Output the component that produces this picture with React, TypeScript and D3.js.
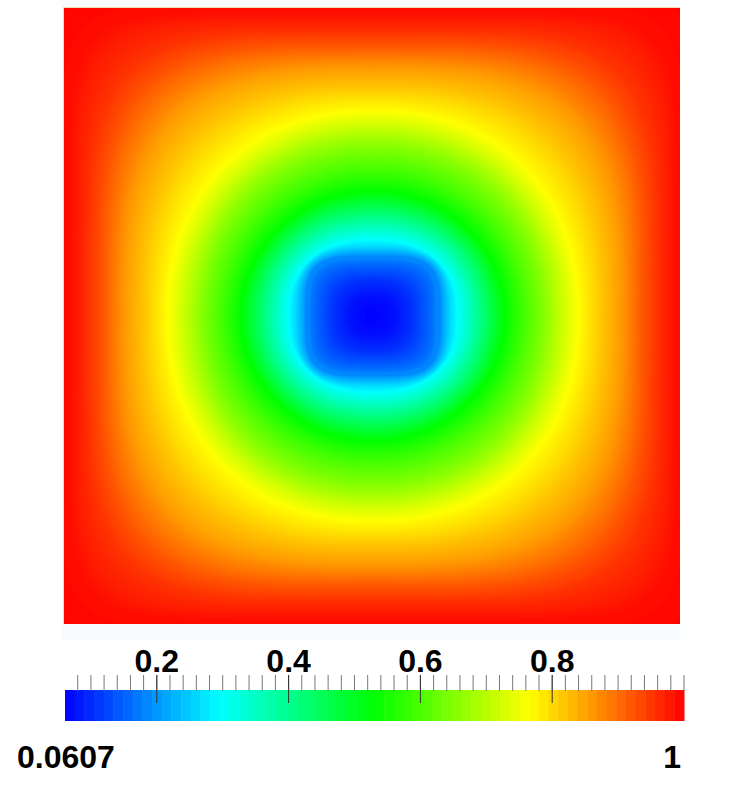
import React, { useMemo } from "react";
import * as d3 from "d3";

const domainMin = 0.0607;
const domainMax = 1;
const majorTicks = [0.2, 0.4, 0.6, 0.8];
const endLabels = ["0.0607", "1"];
const rampStops = ["#0000ff", "#00ffff", "#00ff00", "#ffff00", "#ff0000"];
const bandCount = 64;

// value at each distance from the field's centre, along the axes
const profileRadius = [0, 20, 40, 55, 62, 64.5, 66.5, 70, 78, 85, 95, 110, 132, 150, 170, 190, 206, 229, 249, 272, 290, 305, 340, 440];
const profileValue = [0.0607, 0.072, 0.108, 0.15, 0.172, 0.192, 0.178, 0.212, 0.264, 0.297, 0.345, 0.42, 0.53, 0.59, 0.65, 0.72, 0.767, 0.819, 0.86, 0.925, 0.965, 0.99, 1, 1];
// exponent of the iso-line shape at those distances: rounded square at the core and near the walls
const shapeRadius = [0, 30, 55, 65, 85, 130, 206, 255, 285, 305, 340];
const shapeExponent = [2.2, 2.6, 3.5, 4, 2.3, 2, 2.2, 3.3, 4.6, 8, 12];
// iso-lines of the core are a little flatter in y than in x
const squeezeRadius = [0, 65, 85, 180, 440];
const squeezeAmount = [1.06, 1.12, 1.11, 1, 1];

const W = 754, H = 805;
const plot = { x: 64, y: 8, w: 616, h: 616 };
const center = { x: 372, y: 315 };
const bar = { x: 65, y: 690, w: 619, h: 31 };

const color = d3.scaleLinear<string>()
  .domain(d3.range(5).map((i) => domainMin + (i / 4) * (domainMax - domainMin)))
  .range(rampStops)
  .interpolate(d3.interpolateRgb);

const valueAt = d3.scaleLinear().domain(profileRadius).range(profileValue).clamp(true);
const shapeAt = d3.scaleLinear().domain(shapeRadius).range(shapeExponent).clamp(true);
const squeezeAt = d3.scaleLinear().domain(squeezeRadius).range(squeezeAmount).clamp(true);

function field(px: number, py: number) {
  const dx = Math.abs(px - center.x) / 400;
  const dy0 = Math.abs(py - center.y) / 400;
  let lo = 0, hi = 600;
  for (let k = 0; k < 14; k++) {
    const r = (lo + hi) / 2;
    const p = shapeAt(r);
    const dy = dy0 * squeezeAt(r);
    const norm = 400 * Math.pow(Math.pow(dx, p) + Math.pow(dy, p), 1 / p);
    if (norm > r) lo = r; else hi = r;
  }
  return valueAt((lo + hi) / 2);
}

export default function App() {
  const step = 2;
  const contours = useMemo(() => {
    const n = Math.ceil(plot.w / step) + 1;
    const vals = new Array(n * n);
    for (let j = 0; j < n; j++)
      for (let i = 0; i < n; i++)
        vals[j * n + i] = field(plot.x + i * step, plot.y + j * step);
    const th = d3.range(0, 240).map((i) => domainMin + (i / 240) * (domainMax - domainMin));
    return { n, shapes: d3.contours().size([n, n]).thresholds(th)(vals), th };
  }, []);
  const path = d3.geoPath(d3.geoTransform({
    point(x, y) {
      (this as any).stream.point(plot.x + x * step, plot.y + y * step);
    },
  }));
  const x = d3.scaleLinear().domain([domainMin, domainMax]).range([bar.x, bar.x + bar.w]);
  const bands = d3.range(bandCount);
  const bw = bar.w / bandCount;
  const minor = d3.range(0, 47).map((i) => 0.08 + i * 0.02).filter((v) => v <= 1.0001);
  const font = "'Liberation Sans', Arial, sans-serif";
  return (
    <svg width={W} height={H} style={{ position: "absolute", left: 0, top: 0, background: "#fff" }}>
      <rect x={61} y={0} width={619} height={640} fill="#f7fbff" />
      <rect x={plot.x - 1} y={plot.y - 1} width={plot.w + 1} height={plot.h + 1} fill="#f3dcb8" />
      <rect x={plot.x} y={plot.y} width={plot.w} height={plot.h} fill={color(domainMin)} />
      <clipPath id="pc"><rect x={plot.x} y={plot.y} width={plot.w} height={plot.h} /></clipPath>
      <g clipPath="url(#pc)">
        {contours.shapes.map((c, i) => (
          <path key={i} d={path(c as any) || ""} fill={color(c.value + 0.002)} stroke={color(c.value + 0.002)} strokeWidth={0.4} />
        ))}
      </g>
      {bands.map((i) => (
        <rect key={i} x={bar.x + i * bw} y={bar.y} width={bw + 0.5} height={bar.h}
          fill={color(domainMin + ((i + 0.5) / bandCount) * (domainMax - domainMin))} />
      ))}
      {minor.map((v, i) => (
        <line key={i} x1={x(v)} x2={x(v)} y1={675} y2={691} stroke="#777" strokeWidth={1} />
      ))}
      {majorTicks.map((v) => (
        <g key={v}>
          <line x1={x(v)} x2={x(v)} y1={675} y2={703} stroke="#333" strokeWidth={1} />
          <text x={x(v)} y={672} textAnchor="middle" fontFamily={font} fontWeight="bold" fontSize={32} fill="#000">{v}</text>
        </g>
      ))}
      <text x={17} y={768} fontFamily={font} fontWeight="bold" fontSize={32} fill="#000">{endLabels[0]}</text>
      <text x={681} y={768} textAnchor="end" fontFamily={font} fontWeight="bold" fontSize={32} fill="#000">{endLabels[1]}</text>
    </svg>
  );
}
